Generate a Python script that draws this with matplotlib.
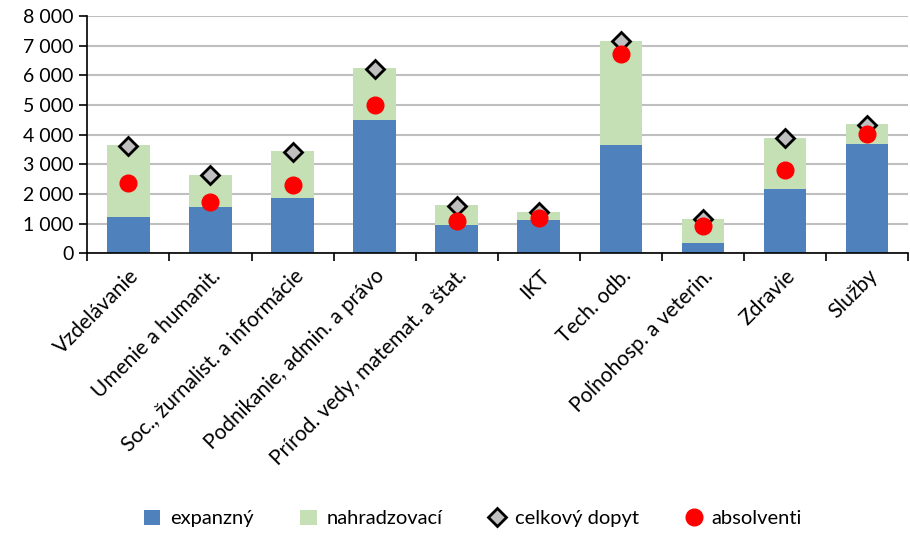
import numpy as np
import matplotlib
matplotlib.use('Agg')
import matplotlib.pyplot as plt
from matplotlib.ticker import FuncFormatter

categories = ["Vzdelávanie", "Umenie a humanit.", "Soc., žurnalist. a informácie",
              "Podnikanie, admin. a právo", "Prírod. vedy, matemat. a štat.", "IKT",
              "Tech. odb.", "Poľnohosp. a veterin.", "Zdravie", "Služby"]
expanzny = [1210, 1560, 1870, 4490, 940, 1120, 3640, 340, 2180, 3700]
nahradzovaci = [2450, 1090, 1580, 1750, 680, 260, 3520, 810, 1700, 660]
celkovy_dopyt = [3630, 2640, 3430, 6220, 1580, 1390, 7150, 1160, 3880, 4340]
absolventi = [2360, 1730, 2290, 5010, 1090, 1190, 6720, 920, 2800, 4020]

plt.rcParams['font.family'] = ['Lato', 'DejaVu Sans']

fig = plt.figure(figsize=(9.1, 5.4), dpi=100)
ax = fig.add_axes([0.096, 0.531, 0.902, 0.439])

x = np.arange(len(categories))
b1 = ax.bar(x, expanzny, width=0.52, color='#4F81BD', label='expanzný', zorder=2)
b2 = ax.bar(x, nahradzovaci, width=0.52, bottom=expanzny, color='#C5E0B4', label='nahradzovací', zorder=2)
l1, = ax.plot(x, celkovy_dopyt, linestyle='none', marker='D', markersize=9, markerfacecolor='#BFBFBF',
              markeredgecolor='black', markeredgewidth=2, label='celkový dopyt', zorder=3)
l2, = ax.plot(x, absolventi, linestyle='none', marker='o', markersize=12, color='#FF0000',
              label='absolventi', zorder=4)

ax.set_xlim(-0.5, len(categories) - 0.5)
ax.set_ylim(0, 8000)
ax.set_yticks(np.arange(0, 8001, 1000))
ax.yaxis.set_major_formatter(FuncFormatter(lambda v, p: "{:,}".format(int(v)).replace(",", " ")))
ax.grid(axis='y', color='#BFBFBF', linewidth=1.5, zorder=0)
ax.set_axisbelow(True)

ax.set_xticks(x)
ax.set_xticklabels(categories, rotation=45, ha='right', rotation_mode='anchor')
ax.set_xticks(np.arange(-0.5, len(categories)), minor=True)
ax.tick_params(axis='x', which='major', length=0, pad=9, labelsize=15)
ax.tick_params(axis='x', which='minor', length=6, width=1.2, direction='out')
ax.tick_params(axis='y', length=6, width=1.2, direction='out', labelsize=14, pad=4)

for s in ['top', 'right']:
    ax.spines[s].set_visible(False)
ax.spines['left'].set_linewidth(1.2)
ax.spines['bottom'].set_linewidth(1.2)

fig.legend([b1, b2, l1, l2], ['expanzný', 'nahradzovací', 'celkový dopyt', 'absolventi'],
           loc='lower center', bbox_to_anchor=(0.52, -0.01), ncol=4, frameon=False,
           fontsize=14.5, handlelength=0.8, handleheight=0.8, handletextpad=0.5, columnspacing=2.3)

fig.savefig('out.png', dpi=100)
